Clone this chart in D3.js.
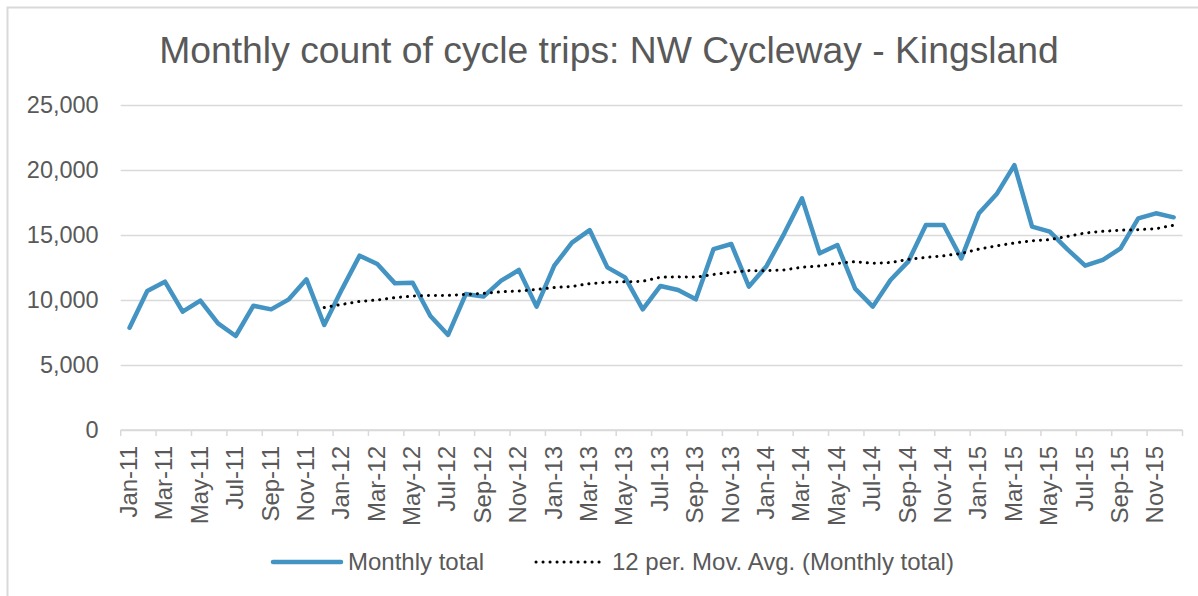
<!DOCTYPE html>
<head>
<meta charset="UTF-8">
<title>Monthly count of cycle trips: NW Cycleway - Kingsland</title>
<style>
body { margin: 0; background: #fff; }
text { font-family: "Liberation Sans", Arial, sans-serif; fill: #595959; }
.grid line { stroke: #d9d9d9; stroke-width: 1.3px; }
.total { fill: none; stroke: #4393c3; stroke-width: 4.5px; stroke-linejoin: round; stroke-linecap: round; }
.movavg { fill: none; stroke: #000; stroke-width: 3px; stroke-dasharray: 0.1 6.9; stroke-linecap: round; }
</style>
</head>
<body>
<script src="https://cdn.jsdelivr.net/npm/d3@7"></script>
<script>

// categories: Jan-11 ... Dec-15
var monthNames = ["Jan","Feb","Mar","Apr","May","Jun","Jul","Aug","Sep","Oct","Nov","Dec"];
var years = ["11","12","13","14","15"];
var months = [];
years.forEach(function(y) {
  monthNames.forEach(function(m) { months.push(m + "-" + y); });
});

// monthly totals
var total2011 = [7870, 10690, 11410, 9100, 9950, 8200, 7230, 9560, 9280, 10050, 11590, 8080];
var total2012 = [10820, 13410, 12770, 11280, 11330, 8770, 7310, 10460, 10260, 11490, 12310, 9490];
var total2013 = [12640, 14410, 15380, 12510, 11740, 9280, 11080, 10770, 10050, 13920, 14310, 11030];
var total2014 = [12620, 15130, 17820, 13590, 14230, 10870, 9490, 11540, 12950, 15770, 15770, 13200];
var total2015 = [16670, 18150, 20380, 15640, 15260, 13900, 12640, 13080, 13970, 16280, 16670, 16360];
var totals = total2011.concat(total2012, total2013, total2014, total2015);

var yTicks = [0, 5000, 10000, 15000, 20000, 25000];
var period = 12;

// plot box (don't call these top/left: window.top is read-only)
var W = 1198, H = 596;
var plotL = 120.7, plotR = 1182.5, plotT = 105, plotB = 430;

var svg = d3.select("body").append("svg")
    .attr("width", W)
    .attr("height", H);

// chart area border (only top / left are visible in the crop)
svg.append("rect")
    .attr("x", 7.5).attr("y", 7.5)
    .attr("width", W + 20).attr("height", H + 20)
    .attr("fill", "none")
    .attr("stroke", "#d9d9d9")
    .attr("stroke-width", 2);

var x = d3.scaleBand().domain(months).range([plotL, plotR]).padding(0);
var y = d3.scaleLinear().domain([0, 25000]).range([plotB, plotT]);

// y gridlines + labels
var yAxis = svg.append("g")
    .attr("class", "grid")
    .attr("transform", "translate(" + plotL + ",0)")
    .call(d3.axisLeft(y).tickValues(yTicks).tickSize(-(plotR - plotL)).tickPadding(22).tickFormat(d3.format(",")));
yAxis.select(".domain").remove();
yAxis.selectAll("text")
    .style("font-size", "23.5px")
    .attr("fill", "#595959");

// x axis line and ticks (every second month)
svg.append("line")
    .attr("x1", plotL).attr("x2", plotR)
    .attr("y1", plotB).attr("y2", plotB)
    .attr("stroke", "#d9d9d9").attr("stroke-width", 1.5);

var labelMonths = months.filter(function(d, i) { return i % 2 === 0; });
svg.append("g").selectAll("line")
    .data(labelMonths.concat(["end"]))
  .enter().append("line")
    .attr("x1", function(d) { return d === "end" ? plotR : x(d); })
    .attr("x2", function(d) { return d === "end" ? plotR : x(d); })
    .attr("y1", plotB).attr("y2", plotB + 6)
    .attr("stroke", "#d9d9d9").attr("stroke-width", 1.5);

// rotated month labels
svg.append("g").selectAll("text")
    .data(labelMonths)
  .enter().append("text")
    .attr("transform", function(d) {
      return "translate(" + (x(d) + x.bandwidth() / 2 - 1) + "," + (plotB + 16) + ") rotate(-90)";
    })
    .attr("text-anchor", "end")
    .attr("dy", "0.35em")
    .style("font-size", "24px")
    .text(function(d) { return d; });

// the series
var pts = months.map(function(m, i) { return { m: m, v: totals[i] }; });

// Excel's "12 per. Mov. Avg." trendline over the monthly totals
var avg = [];
for (var i = period - 1; i < totals.length; i++) {
  avg.push({ m: months[i], v: d3.mean(totals.slice(i - period + 1, i + 1)) });
}

var line = d3.line()
    .x(function(d) { return x(d.m) + x.bandwidth() / 2; })
    .y(function(d) { return y(d.v); });

svg.append("path")
    .datum(pts)
    .attr("class", "total")
    .attr("d", line);

svg.append("path")
    .datum(avg)
    .attr("class", "movavg")
    .attr("d", line);

// title
svg.append("text")
    .attr("x", 609)
    .attr("y", 63)
    .attr("text-anchor", "middle")
    .style("font-size", "37.3px")
    .text("Monthly count of cycle trips: NW Cycleway - Kingsland");

// legend
var ly = 562;
svg.append("line")
    .attr("class", "total")
    .attr("x1", 273).attr("x2", 341)
    .attr("y1", ly).attr("y2", ly);
svg.append("text")
    .attr("x", 348).attr("y", ly)
    .attr("dy", "0.35em")
    .style("font-size", "24px")
    .text("Monthly total");

svg.append("line")
    .attr("class", "movavg")
    .attr("x1", 536).attr("x2", 600)
    .attr("y1", ly).attr("y2", ly);
svg.append("text")
    .attr("x", 612).attr("y", ly)
    .attr("dy", "0.35em")
    .style("font-size", "24px")
    .text("12 per. Mov. Avg. (Monthly total)");

</script>
</body>
